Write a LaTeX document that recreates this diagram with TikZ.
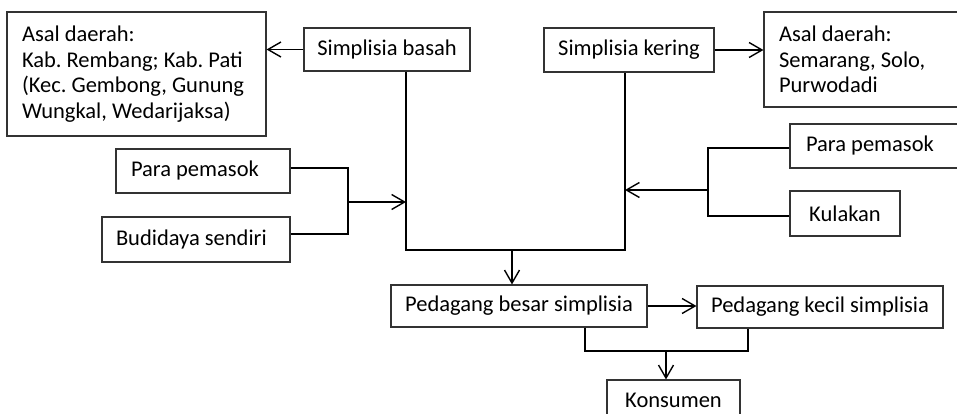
\documentclass[tikz,border=0pt]{standalone}
\usepackage{fontspec}
\setmainfont{Carlito}
\usetikzlibrary{arrows.meta}
\begin{document}
\begin{tikzpicture}[x=1pt,y=-1pt,
  box/.style={draw=black!80,line width=1.1pt,inner sep=0pt,font=\fontsize{22.5}{25.7}\selectfont\frenchspacing},
  lbox/.style={box,align=flush left},
  conn/.style={draw=black,line width=1.6pt},
  arr/.style={conn,-{Straight Barb[length=13pt,width=15pt,line width=1.4pt]}}]
\useasboundingbox (0,0) rectangle (957,414);
\clip (0,0) rectangle (957,414);
\fill[white] (0,0) rectangle (957,414);
% nodes
\node[lbox,minimum width=259,minimum height=124,text width=229] (asalA) at (136.5,74)
  {Asal daerah:\\Kab. Rembang; Kab. Pati\\(Kec. Gembong, Gunung\\Wungkal, Wedarijaksa)};
\node[box,minimum width=166,minimum height=43] (basah) at (387,49.5) {Simplisia basah};
\node[box,minimum width=170,minimum height=44] (kering) at (629,50) {Simplisia kering};
\node[lbox,minimum width=216,minimum height=95,text width=186] (asalB) at (872,59.5)
  {Asal daerah:\\Semarang, Solo,\\Purwodadi};
\node[lbox,minimum width=174,minimum height=44,text width=144] (ppL) at (203,171) {Para pemasok};
\node[lbox,minimum width=188,minimum height=45,text width=160] (budi) at (196,239.5) {Budidaya sendiri};
\node[lbox,minimum width=190,minimum height=44,text width=158] (ppR) at (885,146) {Para pemasok};
\node[box,minimum width=110,minimum height=45] (kul) at (845,213.5) {Kulakan};
\node[box,minimum width=256,minimum height=42] (besar) at (519,306) {Pedagang besar simplisia};
\node[box,minimum width=246,minimum height=42] (kecil) at (820,307) {Pedagang kecil simplisia};
\node[box,minimum width=133,minimum height=40] (kons) at (673.5,400) {Konsumen};
% junction coordinates
\coordinate (jL) at (348,202);
\coordinate (tL) at (406,202);
\coordinate (jR) at (708,190);
\coordinate (tR) at (625,190);
\coordinate (mB) at (512,250);
\coordinate (bB) at (585,351);
\coordinate (bK) at (748,351);
\coordinate (mK) at (666,351);
% connectors
\draw[arr] (basah.west) -- (asalA.east |- basah.west);
\draw[arr] (kering.east) -- (asalB.west |- kering.east);
\draw[conn] (basah.south -| tL) -- (406,250) -- (625,250) -- (kering.south -| tR);
\draw[conn] (ppL.east |- 0,168) -| (jL) |- (budi.east |- 0,234);
\draw[arr] (jL) -- (tL);
\draw[conn] (ppR.west |- 0,148) -| (jR) |- (kul.west |- 0,216);
\draw[arr] (jR) -- (tR);
\draw[arr] (mB) -- (mB |- besar.north);
\draw[arr] (besar.east) -- (kecil.west |- besar.east);
\draw[conn] (besar.south -| bB) -- (bB) -- (bK) -- (kecil.south -| bK);
\draw[arr] (mK) -- (mK |- kons.north);
\end{tikzpicture}
\end{document}
